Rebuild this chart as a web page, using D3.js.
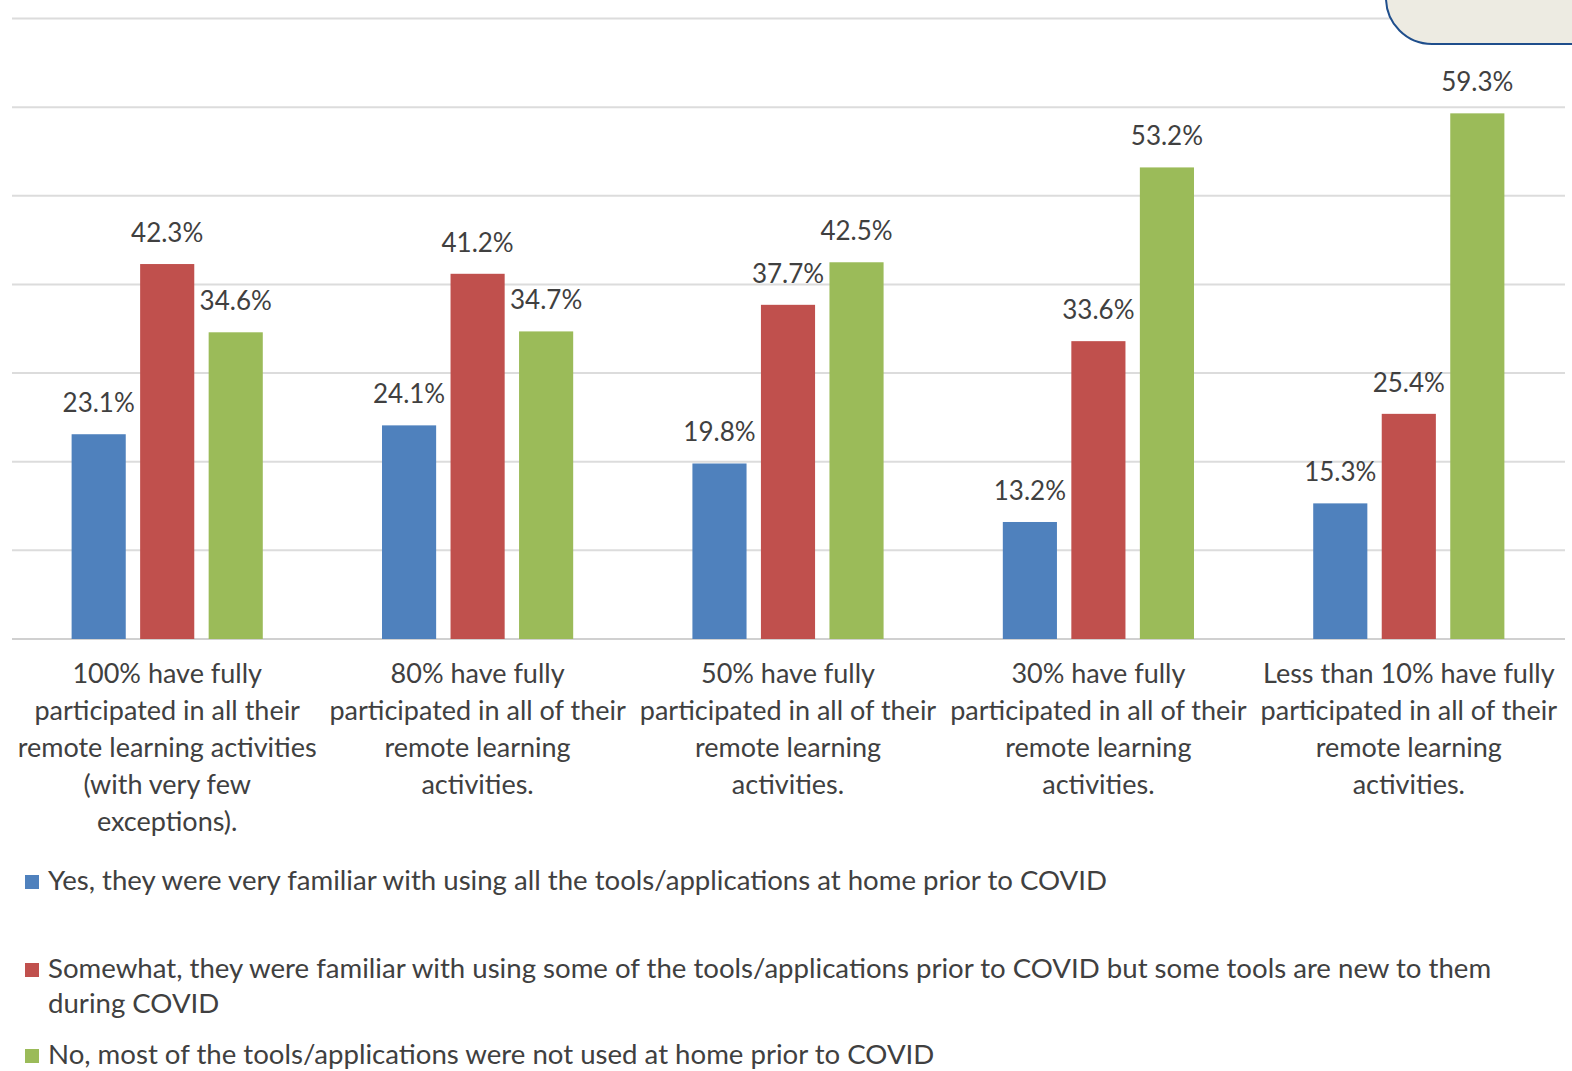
<!DOCTYPE html>
<html><head><meta charset="utf-8">
<script src="https://cdn.jsdelivr.net/npm/d3@7"></script>
<style>
body{margin:0;background:#fff;}
svg{display:block;}
text{font-family:Lato,"Open Sans",sans-serif;fill:#404040;}
</style></head>
<body>
<script>
const categories = ["c100","c80","c50","c30","c10"];
const categoryLabels = [
  ["100% have fully","participated in all their","remote learning activities","(with very few","exceptions)."],
  ["80% have fully","participated in all of their","remote learning","activities."],
  ["50% have fully","participated in all of their","remote learning","activities."],
  ["30% have fully","participated in all of their","remote learning","activities."],
  ["Less than 10% have fully","participated in all of their","remote learning","activities."]
];
const seriesNames = ["yes","somewhat","no"];
const seriesLegend = [
  ["Yes, they were very familiar with using all the tools/applications at home prior to COVID"],
  ["Somewhat, they were familiar with using some of the tools/applications prior to COVID but some tools are new to them","during COVID"],
  ["No, most of the tools/applications were not used at home prior to COVID"]
];
const yesValues = [23.1, 24.1, 19.8, 13.2, 15.3];
const somewhatValues = [42.3, 41.2, 37.7, 33.6, 25.4];
const noValues = [34.6, 34.7, 42.5, 53.2, 59.3];
const yTicks = [0,10,20,30,40,50,60,70];
const colors = ["#4f81bd","#c0504d","#9bbb59"];

const W = 1572, H = 1071;
const svg = d3.select("body").append("svg").attr("width",W).attr("height",H);

const x0 = d3.scaleBand().domain(categories).range([12,1564]).paddingInner(0).paddingOuter(0);
const x1 = d3.scaleBand().domain(seriesNames).range([0,x0.bandwidth()]).paddingInner(0.21).paddingOuter(0.87);
const y = d3.scaleLinear().domain([0,70]).range([639,18.5]);

// gridlines
svg.append("g").selectAll("line").data(yTicks).join("line")
  .attr("x1",12).attr("x2",1565).attr("y1",d=>y(d)).attr("y2",d=>y(d))
  .attr("stroke",d=>d===0?"#d0d0d0":"#dcdcdc").attr("stroke-width",2);

const values = [yesValues, somewhatValues, noValues];
const data = [];
categories.forEach((c,i)=>seriesNames.forEach((s,j)=>data.push({c,s,j,v:values[j][i]})));

const g = svg.append("g");
g.selectAll("rect").data(data).join("rect")
  .attr("x",d=>x0(d.c)+x1(d.s)).attr("width",x1.bandwidth())
  .attr("y",d=>y(d.v)).attr("height",d=>y(0)-y(d.v))
  .attr("fill",d=>colors[d.j]);

g.selectAll("text.val").data(data).join("text").attr("class","val")
  .attr("x",d=>x0(d.c)+x1(d.s)+x1.bandwidth()/2)
  .attr("y",d=>y(d.v)-22)
  .attr("text-anchor","middle").attr("font-size",26)
  .text(d=>d.v.toFixed(1)+"%");

// category labels
const cl = svg.append("g");
categories.forEach((c,i)=>{
  const t = cl.append("text").attr("text-anchor","middle").attr("font-size",27);
  categoryLabels[i].forEach((line,k)=>{
    t.append("tspan").attr("x",x0(c)+x0.bandwidth()/2).attr("y",683+k*37).text(line);
  });
});

// legend
const legY = [[890],[978,1013],[1064]];
const lg = svg.append("g");
seriesLegend.forEach((lines,j)=>{
  lg.append("rect").attr("x",25).attr("y",legY[j][0]-15).attr("width",14).attr("height",14).attr("fill",colors[j]);
  lines.forEach((line,k)=>{
    lg.append("text").attr("x",48).attr("y",legY[j][k]).attr("font-size",27.6).text(line);
  });
});

// top-right rounded box
svg.append("rect").attr("x",1386).attr("y",-60).attr("width",260).attr("height",104)
  .attr("rx",46).attr("ry",46).attr("fill","#edebe2").attr("stroke","#1f4e8c").attr("stroke-width",2);
</script>
</body></html>
